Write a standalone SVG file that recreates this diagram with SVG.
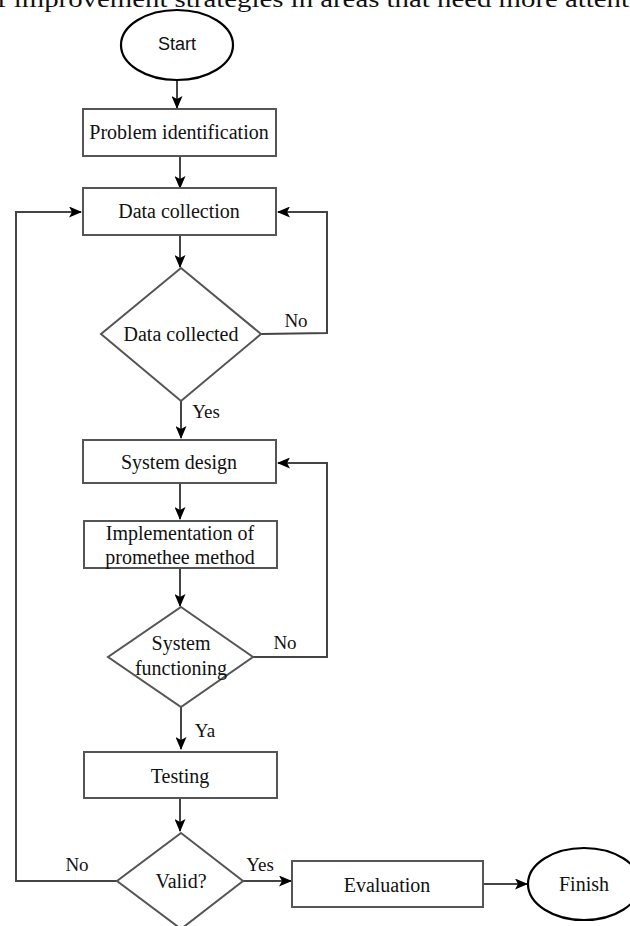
<svg xmlns="http://www.w3.org/2000/svg" width="630" height="926" viewBox="0 0 630 926">
<defs>
<marker id="ah" markerWidth="13" markerHeight="11" refX="12" refY="5.5" orient="auto" markerUnits="userSpaceOnUse">
<path d="M0,0 L13,5.5 L0,11 L3,5.5 Z" fill="#000"/>
</marker>
<style>
.box{fill:#fff;stroke:#555;stroke-width:2}
.ell{fill:#fff;stroke:#000;stroke-width:2.2}
.t{font-family:"Liberation Serif","Times New Roman",serif;font-size:20px;fill:#111;text-anchor:middle;dominant-baseline:central}
.lbl{font-family:"Liberation Serif","Times New Roman",serif;font-size:19px;fill:#111;text-anchor:middle}
.s{font-family:"Liberation Sans",Arial,sans-serif;font-size:18px;fill:#111;text-anchor:middle;dominant-baseline:central}
.c{fill:none;stroke:#444;stroke-width:2}
.top{font-family:"Liberation Serif","Times New Roman",serif;font-size:23px;fill:#111}
</style>
</defs>
<rect width="630" height="926" fill="#fff"/>
<text class="top" x="-3" y="7" textLength="640" lengthAdjust="spacingAndGlyphs">f improvement strategies in areas that need more attenti</text>

<g id="connectors">
<path class="c" d="M177,80 V108" marker-end="url(#ah)"/>
<path class="c" d="M180,156 V188" marker-end="url(#ah)"/>
<path class="c" d="M180,235 V267" marker-end="url(#ah)"/>
<path class="c" d="M261,334 L327,333 V212 H278" marker-end="url(#ah)"/>
<path class="c" d="M181,401 V438" marker-end="url(#ah)"/>
<path class="c" d="M117,881 H16 V212 H81" marker-end="url(#ah)"/>
<path class="c" d="M180,483 V519" marker-end="url(#ah)"/>
<path class="c" d="M180,568 V606" marker-end="url(#ah)"/>
<path class="c" d="M253,657 H327 V463 H278" marker-end="url(#ah)"/>
<path class="c" d="M181,707 V749" marker-end="url(#ah)"/>
<path class="c" d="M180,798 V831" marker-end="url(#ah)"/>
<path class="c" d="M243,881 H291" marker-end="url(#ah)"/>
<path class="c" d="M483,884 H527" marker-end="url(#ah)"/>
<text class="lbl" x="296" y="327">No</text>
<text class="lbl" x="206" y="418">Yes</text>
<text class="lbl" x="285" y="649">No</text>
<text class="lbl" x="205" y="737">Ya</text>
<text class="lbl" x="77" y="871">No</text>
<text class="lbl" x="260" y="871">Yes</text>
</g>

<g id="start">
<ellipse class="ell" cx="177" cy="45" rx="56" ry="35"/>
<text class="s" x="177" y="44">Start</text>
</g>
<g id="problem">
<rect class="box" x="83" y="109" width="193" height="47"/>
<text class="t" x="179" y="132">Problem identification</text>
</g>
<g id="data-collection">
<rect class="box" x="83" y="188" width="193" height="47"/>
<text class="t" x="179" y="211">Data collection</text>
</g>
<g id="data-collected">
<polygon class="box" points="181,268 261,334 181,401 101,334"/>
<text class="t" x="181" y="334">Data collected</text>
</g>
<g id="system-design">
<rect class="box" x="83" y="440" width="193" height="43"/>
<text class="t" x="179" y="462">System design</text>
</g>
<g id="implementation">
<rect class="box" x="84" y="521" width="193" height="47"/>
<text class="t" x="180" y="533">Implementation of</text>
<text class="t" x="180" y="557">promethee method</text>
</g>
<g id="system-functioning">
<polygon class="box" points="181,607 253,657 181,707 108,657"/>
<text class="t" x="181" y="643">System</text>
<text class="t" x="181" y="668">functioning</text>
</g>
<g id="testing">
<rect class="box" x="84" y="752" width="193" height="46"/>
<text class="t" x="180" y="776">Testing</text>
</g>
<g id="valid">
<polygon class="box" points="181,833 243,881 181,929 117,881"/>
<text class="t" x="181" y="881">Valid?</text>
</g>
<g id="evaluation">
<rect class="box" x="292" y="861" width="191" height="46"/>
<text class="t" x="387" y="885">Evaluation</text>
</g>
<g id="finish">
<ellipse class="ell" cx="584" cy="884" rx="56" ry="36"/>
<text class="t" x="584" y="884">Finish</text>
</g>
</svg>
